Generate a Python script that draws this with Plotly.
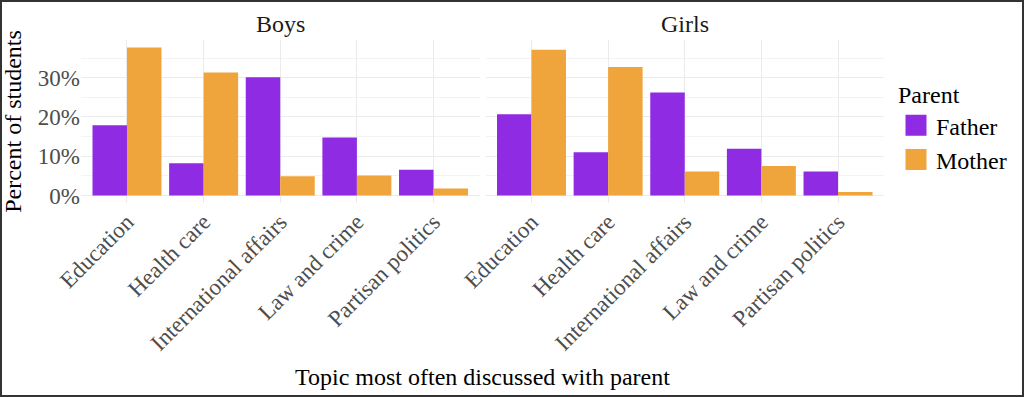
import plotly.graph_objects as go

# ---- data ----
topics = ["Education", "Health care", "International affairs", "Law and crime", "Partisan politics"]
panels = ["Boys", "Girls"]
parents = ["Father", "Mother"]
boys_father = [17.9, 8.2, 30.1, 14.8, 6.6]
boys_mother = [37.7, 31.3, 4.9, 5.1, 1.8]
girls_father = [20.7, 11.0, 26.2, 11.9, 6.1]
girls_mother = [37.1, 32.7, 6.1, 7.5, 0.9]
y_ticks = [0, 10, 20, 30]
y_tick_labels = ["0%", "10%", "20%", "30%"]

colors = {"Father": "#8E2BE3", "Mother": "#F0A53C"}
FONT = "Liberation Serif"

W, H = 1024, 397
ML, MR, MT, MB = 81, 140, 40, 194
PW = W - ML - MR
PH = H - MT - MB
gap = 6

data = {
    "Boys": {"Father": boys_father, "Mother": boys_mother},
    "Girls": {"Father": girls_father, "Mother": girls_mother},
}

fig = go.Figure()
for i, panel in enumerate(panels):
    xa = "x" if i == 0 else "x2"
    ya = "y" if i == 0 else "y2"
    for p in parents:
        fig.add_trace(go.Bar(
            x=topics, y=data[panel][p], name=p, legendgroup=p,
            marker=dict(color=colors[p], line=dict(width=0)),
            showlegend=False, xaxis=xa, yaxis=ya,
        ))

# legend-only entries with larger square keys
for p in parents:
    fig.add_trace(go.Scatter(
        x=[None], y=[None], mode="markers", name=p, legendgroup=p,
        marker=dict(symbol="square", size=16, color=colors[p],
                    line=dict(color=colors[p], width=5)),
        showlegend=True, xaxis="x", yaxis="y",
    ))

all_vals = boys_father + boys_mother + girls_father + girls_mother
vmax = max(all_vals)
yr = [-0.05 * vmax, vmax * 1.05]

half = (PW - gap) / 2 / PW
grid = "#EBEBEB"
axis_common = dict(
    type="category", range=[-0.6, len(topics) - 0.4],
    showgrid=True, gridcolor=grid, gridwidth=1,
    showline=False, zeroline=False, ticks="",
    tickangle=-45, tickfont=dict(family=FONT, size=23, color="#4D4D4D"),
    fixedrange=True,
)
yaxis_common = dict(
    range=yr, tickmode="array", tickvals=y_ticks, ticktext=y_tick_labels,
    showgrid=True, gridcolor=grid, gridwidth=1,
    minor=dict(dtick=5, tick0=5, showgrid=True, gridcolor="#F3F3F3", gridwidth=1),
    zeroline=False, showline=False, ticks="",
    tickfont=dict(family=FONT, size=23, color="#4D4D4D"),
    fixedrange=True,
)

fig.update_layout(
    width=W, height=H,
    margin=dict(l=ML, r=MR, t=MT, b=MB, autoexpand=False),
    paper_bgcolor="white", plot_bgcolor="white",
    barmode="group", bargap=0.1, bargroupgap=0,
    font=dict(family=FONT, size=24, color="black"),
    xaxis=dict(domain=[0, half], **axis_common),
    xaxis2=dict(domain=[1 - half, 1], anchor="y2", **axis_common),
    yaxis=dict(domain=[0, 1], anchor="x",
               title=dict(text="Percent of students", standoff=10,
                          font=dict(family=FONT, size=24, color="black")),
               **yaxis_common),
    yaxis2=dict(domain=[0, 1], anchor="x2", matches="y", showticklabels=False,
                **yaxis_common),
    legend=dict(
        title=dict(text="Parent", font=dict(family=FONT, size=24, color="black")),
        font=dict(family=FONT, size=24, color="black"),
        x=1 + (896 - ML - PW) / PW, xanchor="left",
        y=1 - (72 - MT) / PH, yanchor="top",
        bgcolor="rgba(0,0,0,0)", tracegroupgap=0,
    ),
    showlegend=True,
)

# strip titles
for i, panel in enumerate(panels):
    fig.add_annotation(
        text=panel, xref=("x domain" if i == 0 else "x2 domain"),
        yref="y domain", x=0.5, y=1, yanchor="bottom", yshift=1,
        showarrow=False, font=dict(family=FONT, size=24, color="#1A1A1A"),
    )

# shared x-axis title
fig.add_annotation(
    text="Topic most often discussed with parent", xref="paper", yref="paper",
    x=0.5, y=-(377 - MT - PH) / PH, yanchor="middle", showarrow=False,
    font=dict(family=FONT, size=24, color="black"),
)

# outer frame
fig.add_shape(
    type="rect", xref="paper", yref="paper",
    x0=-(ML - 1) / PW, x1=1 + (MR - 1) / PW,
    y0=-(MB - 1) / PH, y1=1 + (MT - 1) / PH,
    line=dict(color="#333333", width=2), fillcolor="rgba(0,0,0,0)", layer="above",
)

fig.write_html(
    "out.html",
    config={"displayModeBar": False},
    post_script="document.body.style.margin='0';document.body.style.overflow='hidden';",
)
